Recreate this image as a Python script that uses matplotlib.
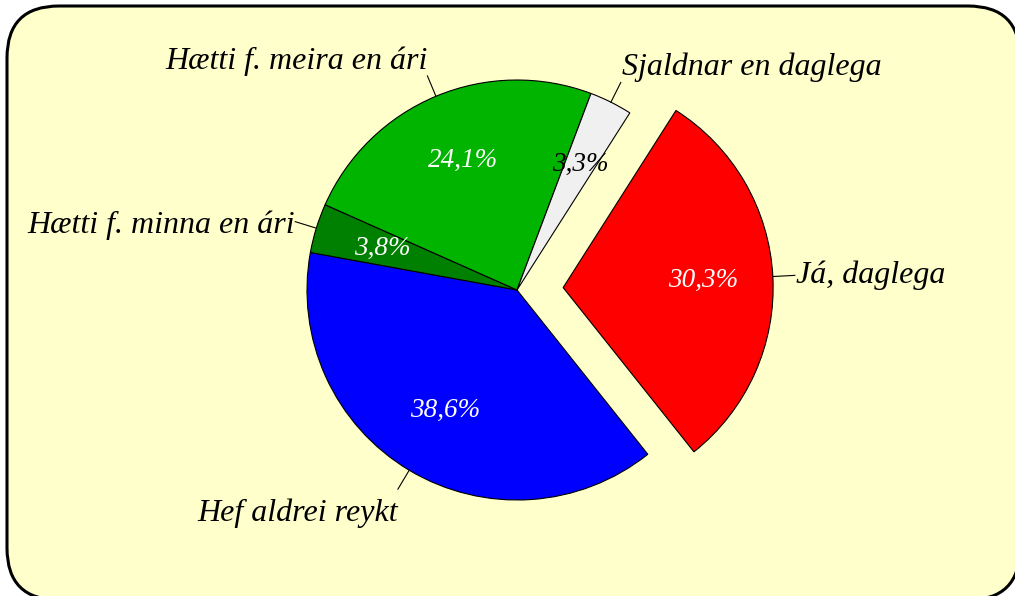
import math
import matplotlib
matplotlib.use("Agg")
import matplotlib.pyplot as plt
from matplotlib.patches import FancyBboxPatch

# ── Data ──────────────────────────────────────────────────────────────────────
categories = ["Já, daglega", "Hef aldrei reykt", "Hætti f. minna en ári",
              "Hætti f. meira en ári", "Sjaldnar en daglega"]
values     = [30.3, 38.6, 3.8, 24.1, 3.3]
colors     = ["#FF0000", "#0000FF", "#008000", "#00B400", "#F0F0F0"]
pct_colors = ["white", "white", "white", "white", "black"]

W, H = 1015, 596
CX, CY, R = 517, H - 290, 210

fig = plt.figure(figsize=(W / 100, H / 100), dpi=100)
ax = fig.add_axes([0, 0, 1, 1])

# rounded yellow frame (runs past the right/bottom edge like the original)
frame = FancyBboxPatch((7, H - 600), 1013, 594,
                       boxstyle="round,pad=0,rounding_size=52",
                       facecolor="#FFFFCC", edgecolor="black", linewidth=2.2,
                       zorder=0)
ax.add_patch(frame)

fmt = lambda p: f"{p:.1f}%".replace(".", ",")
wedges, texts, autotexts = ax.pie(
    values, colors=colors, explode=[0.22 * R, 0, 0, 0, 0],
    startangle=57.5, counterclock=False, radius=R, center=(CX, CY),
    autopct=fmt, pctdistance=0.67,
    wedgeprops=dict(edgecolor="black", linewidth=0.8),
    textprops=dict(family="Liberation Serif", style="italic", fontsize=19.5),
)
for t, c in zip(autotexts, pct_colors):
    t.set_color(c)

# leader lines and outer labels
for w, lab in zip(wedges, categories):
    thm = math.radians((w.theta1 + w.theta2) / 2)
    cx, cy = w.center
    x0, y0 = cx + R * math.cos(thm), cy + R * math.sin(thm)
    x1, y1 = cx + 1.105 * R * math.cos(thm), cy + 1.105 * R * math.sin(thm)
    ax.plot([x0, x1], [y0, y1], color="black", linewidth=0.8)
    ca, sa = math.cos(thm), math.sin(thm)
    ha = "left" if ca > 0.1 else "right"
    if abs(sa) < 0.5:
        va = "center"
        dy = -4 if ha == "right" else 0
    else:
        va = "bottom" if sa > 0 else "top"
        dy = -9 if va == "top" else 0
    ax.text(x1 + (1 if ha == "left" else 0), y1 + dy, lab, ha=ha, va=va,
            family="Liberation Serif", style="italic", fontsize=23)

ax.set_xlim(0, W)
ax.set_ylim(0, H)
ax.set_aspect("equal")
ax.axis("off")

fig.savefig("out.png", dpi=100, facecolor="white")
